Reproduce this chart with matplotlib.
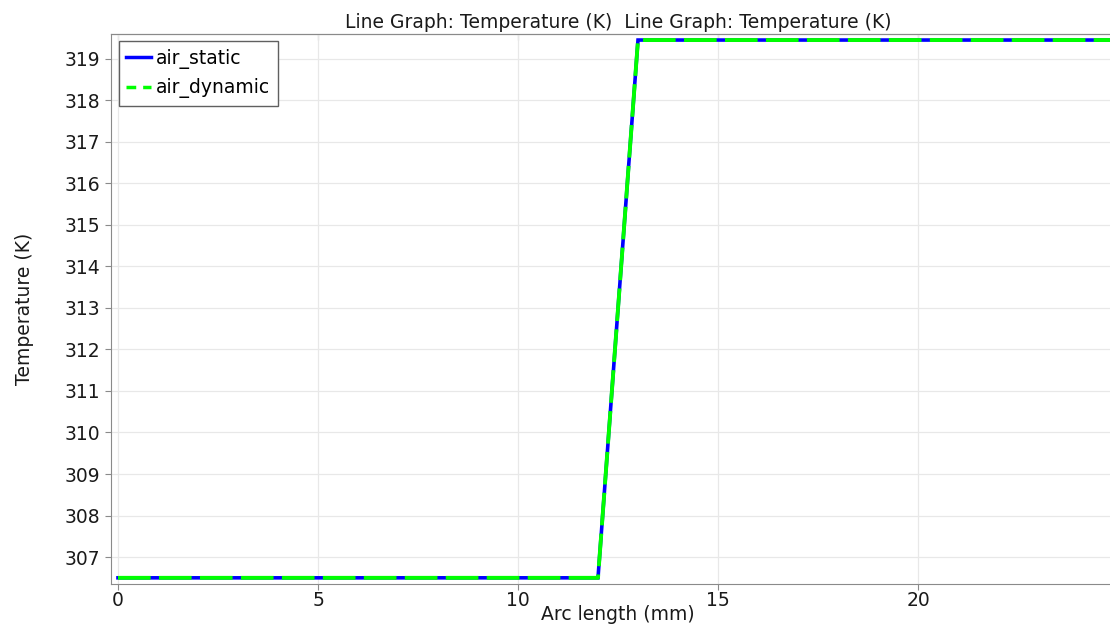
import matplotlib.pyplot as plt
from matplotlib.lines import Line2D

# data
arc_length = [0.0, 12.0, 13.0, 24.8]
temp_static = [306.5, 306.5, 319.45, 319.45]
temp_dynamic = [306.5, 306.5, 319.45, 319.45]
series_names = ['air_static', 'air_dynamic']

plt.rcParams['font.family'] = 'DejaVu Sans'
plt.rcParams['lines.scale_dashes'] = False

fs = 13.5
fig = plt.figure(figsize=(11.1, 6.26), dpi=100)
ax = fig.add_axes([0.1, 0.067, 0.9, 0.879])

ax.plot(arc_length, temp_static, color='#0000ff', lw=2.6, solid_joinstyle='miter')
ax.plot(arc_length, temp_dynamic, color='#00ff00', lw=2.8, dashes=(23.5, 6.0))

ax.set_xlim(-0.175, 24.8)
ax.set_ylim(306.35, 319.6)
ax.set_xticks([0, 5, 10, 15, 20])
ax.set_yticks(range(307, 320))
ax.grid(True, color='#e8e8e8', lw=0.9)
ax.set_axisbelow(True)

for side in ['left', 'bottom', 'top', 'right']:
    ax.spines[side].set_color('#8a8a8a')
ax.spines['right'].set_visible(False)
ax.tick_params(axis='both', labelsize=fs, length=4, color='#8a8a8a', labelcolor='#1a1a1a')
ax.tick_params(axis='x', pad=1)

# small inward ticks along the top edge
top = ax.secondary_xaxis('top')
top.set_xticks([0, 5, 10, 15, 20])
top.tick_params(direction='in', length=4, color='#8a8a8a', labeltop=False)
top.spines['top'].set_color('#8a8a8a')

ax.set_title('Line Graph: Temperature (K)  Line Graph: Temperature (K)', fontsize=fs,
             color='#1a1a1a', pad=4, x=0.508)
fig.text(618 / 1110, 1 - 615 / 626, 'Arc length (mm)', fontsize=fs, color='#1a1a1a',
         ha='center', va='center')
ax.set_ylabel('Temperature (K)', fontsize=fs, color='#1a1a1a', labelpad=22)

handles = [Line2D([], [], color='#0000ff', lw=2.5),
           Line2D([], [], color='#00ff00', lw=2.5, dashes=(7, 5))]
leg = ax.legend(handles, series_names, loc='upper left', fontsize=fs, frameon=True,
                fancybox=False, edgecolor='#606060', framealpha=1,
                handlelength=1.35, handletextpad=0.25, borderpad=0.4,
                borderaxespad=0.4, labelspacing=0.5)
leg.get_frame().set_linewidth(1.0)

fig.savefig('out.png', dpi=100)
